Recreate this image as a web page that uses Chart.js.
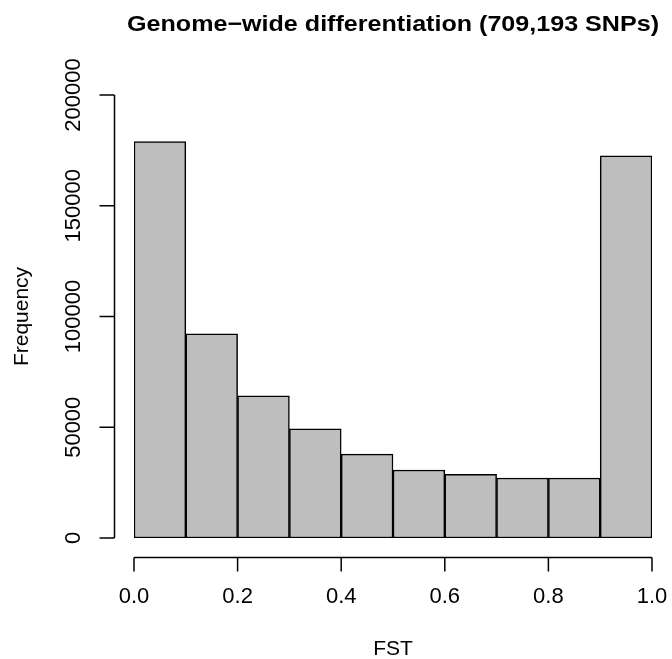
<!DOCTYPE html>
<html lang="en">
<head>
    <meta charset="UTF-8">
    <title>Genome-wide differentiation</title>
    <style>
        html, body {
            margin: 0;
            padding: 0;
            background: #ffffff;
        }
        #fstChart {
            display: block;
        }
    </style>
</head>
<body>
    <canvas id="fstChart" width="672" height="659"></canvas>

    <script src="https://cdn.jsdelivr.net/npm/chart.js"></script>

    <script>
        // histogram bins (FST) and counts
        const binEdges = [0.0, 0.1, 0.2, 0.3, 0.4, 0.5, 0.6, 0.7, 0.8, 0.9, 1.0];
        const counts = [179000, 92200, 64200, 49300, 37900, 30700, 28700, 27100, 27100, 172500];
        const xTicks = [0.0, 0.2, 0.4, 0.6, 0.8, 1.0];
        const yTicks = [0, 50000, 100000, 150000, 200000];

        const titleText = "Genome\u2212wide differentiation (709,193 SNPs)";
        const xTitle = "FST";
        const yTitle = "Frequency";
        const fontFamily = "'Liberation Sans', Arial, Helvetica, sans-serif";

        // one point per bin, placed at the bin's middle
        let histData = counts.map(function(c, i) {
            return { x: (binEdges[i] + binEdges[i + 1]) / 2, y: c };
        });

        // R-style axes: detached from the plot region
        const baseAxes = {
            id: "baseAxes",
            afterDraw(chart) {
                const ctx = chart.ctx;
                const xs = chart.scales.x;
                const ys = chart.scales.y;
                const area = chart.chartArea;

                ctx.save();
                ctx.strokeStyle = "#000";
                ctx.fillStyle = "#000";
                ctx.lineWidth = 1.5;

                // x axis
                let axisY = Math.round(area.bottom + 18.5) + 0.5;
                let x0 = xs.getPixelForValue(xTicks[0]);
                let x1 = xs.getPixelForValue(xTicks[xTicks.length - 1]);
                ctx.beginPath();
                ctx.moveTo(x0, axisY);
                ctx.lineTo(x1, axisY);
                xTicks.forEach(function(t) {
                    let px = xs.getPixelForValue(t);
                    ctx.moveTo(px, axisY);
                    ctx.lineTo(px, axisY + 14);
                });
                ctx.stroke();

                ctx.font = "22px " + fontFamily;
                ctx.textAlign = "center";
                ctx.textBaseline = "alphabetic";
                xTicks.forEach(function(t) {
                    ctx.fillText(t.toFixed(1), xs.getPixelForValue(t), 603);
                });

                // y axis
                let axisX = Math.round(area.left - 20) + 0.5;
                let yTop = ys.getPixelForValue(yTicks[yTicks.length - 1]);
                let yBot = ys.getPixelForValue(yTicks[0]);
                ctx.beginPath();
                ctx.moveTo(axisX, yBot);
                ctx.lineTo(axisX, yTop);
                yTicks.forEach(function(t) {
                    let py = ys.getPixelForValue(t);
                    ctx.moveTo(axisX, py);
                    ctx.lineTo(axisX - 15, py);
                });
                ctx.stroke();

                yTicks.forEach(function(t) {
                    ctx.save();
                    ctx.translate(80, ys.getPixelForValue(t));
                    ctx.rotate(-Math.PI / 2);
                    ctx.fillText(String(t), 0, 0);
                    ctx.restore();
                });

                // axis titles
                ctx.font = "21px " + fontFamily;
                ctx.fillText(xTitle, (area.left + area.right) / 2, 655);

                ctx.save();
                ctx.translate(28, (area.top + area.bottom) / 2);
                ctx.rotate(-Math.PI / 2);
                ctx.fillText(yTitle, 0, 0);
                ctx.restore();

                // main title, stretched to the width seen in the picture
                ctx.font = "bold 22px " + fontFamily;
                let w = ctx.measureText(titleText).width;
                let sx = 532 / w;
                ctx.save();
                ctx.translate((area.left + area.right) / 2, 31);
                ctx.scale(sx, 1);
                ctx.fillText(titleText, 0, 0);
                ctx.restore();

                ctx.restore();
            }
        };

        let ctx = document.getElementById("fstChart").getContext("2d");
        let fstChart = new Chart(ctx, {
            type: "bar",
            data: {
                datasets: [{
                    label: "Frequency",
                    data: histData,
                    backgroundColor: "#bebebe",
                    borderColor: "#000000",
                    borderWidth: 1.5,
                    borderSkipped: false,
                    barPercentage: 1.0,
                    categoryPercentage: 1.0
                }]
            },
            options: {
                responsive: false,
                animation: false,
                layout: {
                    padding: { left: 134, right: 20, top: 95, bottom: 121 }
                },
                scales: {
                    x: {
                        type: "linear",
                        min: 0,
                        max: 1,
                        offset: false,
                        display: false
                    },
                    y: {
                        min: 0,
                        max: 200000,
                        display: false
                    }
                },
                plugins: {
                    legend: { display: false },
                    title: { display: false },
                    tooltip: { enabled: false }
                }
            },
            plugins: [baseAxes]
        });
    </script>
</body>
</html>
